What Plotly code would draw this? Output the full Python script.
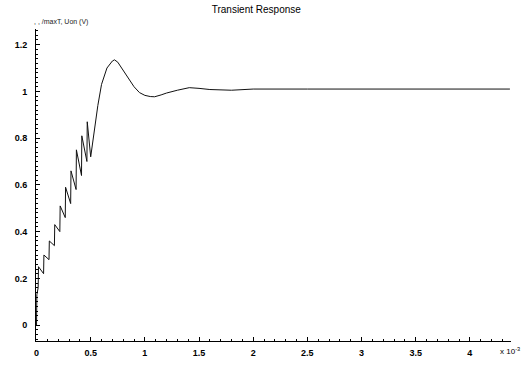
import plotly.graph_objects as go

# Time (x 10^-3 s) and response values
t_ms = [0.0, 0.003,
        0.015, 0.018, 0.065, 0.068, 0.115, 0.118, 0.165, 0.168,
        0.215, 0.218, 0.265, 0.268, 0.315, 0.318, 0.365, 0.368,
        0.415, 0.418, 0.465, 0.468,
        0.50, 0.53, 0.566, 0.60, 0.65, 0.70, 0.72, 0.75, 0.80, 0.85,
        0.90, 0.95, 1.00, 1.05, 1.09, 1.15, 1.20, 1.30, 1.41, 1.50,
        1.60, 1.80, 2.00, 2.50, 3.00, 3.50, 4.00, 4.37]
v_out = [0.0, 0.13,
         0.16, 0.25, 0.22, 0.30, 0.28, 0.36, 0.34, 0.43,
         0.40, 0.51, 0.46, 0.59, 0.52, 0.66, 0.58, 0.75,
         0.64, 0.81, 0.70, 0.87,
         0.72, 0.82, 0.94, 1.03, 1.10, 1.13, 1.135, 1.125, 1.09, 1.05,
         1.02, 0.995, 0.983, 0.978, 0.977, 0.985, 0.993, 1.005, 1.016, 1.013,
         1.008, 1.005, 1.010, 1.010, 1.010, 1.010, 1.010, 1.010]

x_ticks = [0, 0.5, 1, 1.5, 2, 2.5, 3, 3.5, 4]
x_tick_text = ["0", "0.5", "1", "1.5", "2", "2.5", "3", "3.5", "4"]
y_ticks = [0, 0.2, 0.4, 0.6, 0.8, 1.0, 1.2]
y_tick_text = ["0", "0.2", "0.4", "0.6", "0.8", "1", "1.2"]

fig = go.Figure()
fig.add_trace(go.Scatter(x=t_ms, y=v_out, mode="lines",
                         line=dict(color="#111111", width=1),
                         showlegend=False))

tick_font = dict(family="Liberation Sans, Arial, sans-serif", size=9, color="#000000", weight="bold")

fig.update_layout(
    width=523, height=370,
    margin=dict(l=36, r=12, t=29, b=26),
    paper_bgcolor="white", plot_bgcolor="white",
    title=dict(text="Transient Response", x=0.49, xanchor="center", y=0.985, yanchor="top",
               font=dict(family="Liberation Sans Narrow, Arial Narrow, sans-serif", size=10, color="#000")),
    xaxis=dict(range=[-0.005, 4.38], tickvals=x_ticks, ticktext=x_tick_text,
               showgrid=False, zeroline=False, showline=True, linecolor="#000", linewidth=1,
               ticks="inside", ticklen=4, tickcolor="#000", tickfont=tick_font,
               ticklabelstandoff=3,
               minor=dict(dtick=0.1, ticks="inside", ticklen=2, tickcolor="#000", showgrid=False)),
    yaxis=dict(range=[-0.068, 1.267], tickvals=y_ticks, ticktext=y_tick_text,
               showgrid=False, zeroline=False, showline=True, linecolor="#000", linewidth=1,
               ticks="inside", ticklen=4, tickcolor="#000", tickfont=tick_font,
               ticklabelstandoff=6,
               minor=dict(dtick=0.02, ticks="inside", ticklen=2, tickcolor="#000", showgrid=False)),
)

fig.add_annotation(text=", , /maxT, Uon (V)", xref="paper", yref="paper",
                   x=0.0, y=1.0, xanchor="left", yanchor="bottom", showarrow=False,
                   xshift=-4, yshift=1,
                   font=dict(family="Liberation Sans Narrow, Arial Narrow, sans-serif", size=7, color="#222222"))
fig.add_annotation(text="x 10<sup>-3</sup>", xref="paper", yref="paper",
                   x=1.0, y=0.0, xanchor="right", yanchor="top", showarrow=False,
                   xshift=11, yshift=-3,
                   font=dict(family="Liberation Sans, Arial, sans-serif", size=8, color="#000"))

fig.write_html("out.html")
